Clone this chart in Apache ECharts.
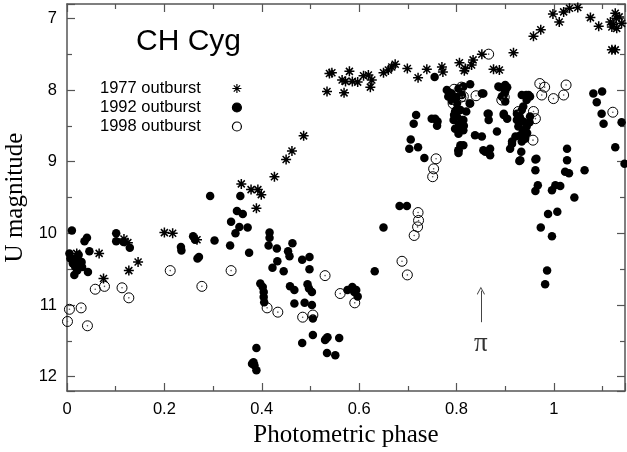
<!DOCTYPE html>
<html>
<head>
<meta charset="utf-8">
<script src="https://cdn.jsdelivr.net/npm/echarts@6/dist/echarts.min.js"></script>
<style>html,body{margin:0;padding:0;background:#fff}#c{width:627px;height:452px}</style>
</head>
<body>
<div id="c"></div>
<script>
// ---- data: [photometric phase, U magnitude] ----
const outburst1977 = [
[0.020,10.28],[0.066,10.28],[0.075,10.63],[0.117,10.08],[0.125,10.13],[0.127,10.52],[0.146,10.40],[0.200,9.99],[0.217,10.00],[0.267,10.09],
[0.358,9.31],[0.378,9.39],[0.392,9.39],[0.399,9.46],[0.389,9.65],[0.426,9.21],[0.450,8.97],[0.462,8.85],[0.486,8.64],
[0.534,8.02],[0.569,8.04],[0.539,7.77],[0.544,7.76],[0.580,7.74],[0.565,7.86],[0.572,7.88],[0.586,7.88],[0.597,7.89],[0.609,7.80],[0.619,7.79],[0.626,7.86],[0.623,7.96],
[0.650,7.76],[0.660,7.72],[0.667,7.68],[0.674,7.64],[0.699,7.70],[0.721,7.83],[0.739,7.71],[0.770,7.68],[0.772,7.75],[0.806,7.62],[0.818,7.70],[0.816,7.73],
[0.834,7.58],[0.831,7.65],[0.852,7.50],[0.876,7.71],[0.888,7.72],[0.917,7.48],[0.958,7.25],[0.973,7.16],[0.998,6.94],[1.011,7.05],[1.020,6.91],[1.032,6.86],
[1.049,6.85],[1.075,6.99],[1.092,7.11],[1.116,7.05],[1.126,6.93],[1.128,7.00],[1.119,7.12],[1.129,7.14],[1.139,7.07],[1.119,7.44],[1.126,7.44],[1.134,6.98],[1.122,7.09]
];
const outburst1992 = [
[0.010,9.96],[0.036,10.11],[0.041,10.06],[0.046,10.25],[0.005,10.28],[0.007,10.35],[0.017,10.35],[0.024,10.38],[0.027,10.42],[0.017,10.47],[0.031,10.47],
[0.021,10.52],[0.015,10.58],[0.043,10.54],[0.024,10.30],[0.030,10.40],[0.012,10.42],[0.101,10.00],[0.101,10.11],[0.116,10.12],[0.129,10.20],
[0.259,10.04],[0.263,10.09],[0.234,10.19],[0.235,10.24],[0.268,10.35],[0.271,10.33],[0.303,10.10],[0.335,10.17],
[0.294,9.48],[0.356,9.48],[0.349,9.69],[0.361,9.73],[0.337,9.84],[0.354,9.91],[0.371,9.92],[0.346,10.00],[0.374,10.27],
[0.416,9.99],[0.416,10.06],[0.414,10.17],[0.431,10.21],[0.463,10.14],[0.454,10.25],[0.457,10.32],[0.432,10.39],[0.422,10.48],[0.445,10.53],[0.483,10.37],[0.498,10.33],[0.498,10.50],
[0.397,10.70],[0.402,10.75],[0.404,10.82],[0.404,10.89],[0.405,10.96],[0.458,10.74],[0.467,10.79],[0.494,10.71],[0.497,10.77],[0.503,10.82],[0.467,10.98],[0.488,10.97],[0.503,11.00],
[0.505,11.19],[0.505,11.42],[0.483,11.53],[0.530,11.49],[0.534,11.67],[0.532,11.47],[0.535,11.45],[0.559,11.46],[0.551,11.70],
[0.389,11.60],[0.380,11.82],[0.385,11.84],[0.389,11.91],[0.383,11.80],
[0.683,9.62],[0.698,9.62],[0.650,9.92],[0.632,10.53],[0.586,10.75],[0.576,10.79],[0.594,10.79],[0.597,10.88],[0.590,10.82],
[0.755,7.82],[0.717,8.35],[0.712,8.47],[0.749,8.40],[0.761,8.44],[0.760,8.50],[0.706,8.69],[0.703,8.82],[0.721,8.80],[0.734,8.95],[0.804,8.84],[0.756,8.40],
[0.780,8.00],[0.783,8.09],[0.786,8.04],[0.790,8.05],[0.804,7.98],[0.814,7.95],[0.828,7.92],[0.811,8.07],[0.827,8.19],[0.801,8.19],[0.797,8.30],[0.808,8.28],
[0.794,8.42],[0.811,8.42],[0.797,8.54],[0.814,8.56],[0.804,8.61],[0.799,8.28],[0.801,8.37],[0.814,8.42],[0.808,8.56],[0.808,8.77],[0.804,8.84],[0.804,8.88],
[0.814,8.77],[0.790,8.15],[0.795,8.35],[0.805,8.48],[0.815,8.50],[0.800,8.10],[0.820,8.30],
[0.852,8.05],[0.855,8.05],[0.838,8.63],[0.852,8.65],[0.866,8.33],[0.866,8.42],[0.883,8.58],[0.855,8.84],[0.869,8.82],[0.869,8.91],[0.859,8.86],[0.864,8.33],[0.828,8.19],
[0.886,7.95],[0.889,7.96],[0.900,7.93],[0.904,7.96],[0.900,8.02],[0.893,8.09],[0.897,8.07],[0.900,8.16],[0.897,8.33],[0.904,8.40],[0.897,8.35],
[0.914,8.72],[0.910,8.82],[0.914,8.75],[0.933,8.86],[0.929,8.99],[0.931,8.98],
[0.934,8.07],[0.948,8.07],[0.944,8.14],[0.943,8.07],[0.937,8.23],[0.951,8.09],
[0.924,8.33],[0.934,8.28],[0.924,8.42],[0.937,8.44],[0.927,8.51],[0.937,8.56],[0.931,8.63],[0.941,8.68],[0.934,8.72],[0.921,8.65],[0.951,8.37],[0.944,8.51],[0.930,8.38],[0.945,8.60],[0.950,8.45],
[0.964,8.96],[0.962,8.97],[0.962,9.12],[0.967,9.33],[0.962,9.41],[0.996,9.40],[1.003,9.33],[1.013,9.34],[0.988,9.73],[1.007,9.70],[0.973,9.92],[0.996,10.04],[0.986,10.52],[0.982,10.71],
[1.027,8.82],[1.027,8.98],[1.023,9.14],[1.031,9.16],[1.063,9.12],[1.042,9.50],
[1.081,8.05],[1.099,8.02],[1.088,8.17],[1.098,8.33],[1.102,8.47],[1.139,8.45],[1.126,8.80],[1.145,9.03]
];
const outburst1998 = [
[0.212,10.52],[0.058,10.78],[0.077,10.74],[0.113,10.76],[0.127,10.90],[0.005,11.06],[0.029,11.04],[0.001,11.23],[0.042,11.29],[0.277,10.74],[0.337,10.52],
[0.411,11.04],[0.433,11.10],[0.484,11.17],[0.505,11.14],[0.530,10.59],[0.561,10.84],[0.591,10.97],[0.688,10.39],[0.699,10.58],
[0.721,9.71],[0.722,9.82],[0.720,9.91],[0.713,10.03],
[0.758,8.96],[0.753,9.10],[0.751,9.21],
[0.866,7.50],[0.840,8.08],[0.795,7.99],[0.810,7.96],[0.809,8.10],[0.793,8.19],[0.814,8.09],[0.898,8.10],[0.893,8.14],
[0.971,7.91],[0.981,7.96],[0.975,8.07],[0.999,8.12],[1.020,8.07],[1.025,7.93],[1.121,8.31],[0.927,8.30],[0.958,8.30],[0.962,8.40],[0.957,8.70]
];
const seriesNames = ['1977 outburst', '1992 outburst', '1998 outburst'];
const xRange = [0, 1.146];
const yRange = [6.8, 12.2];
const piLabel = [[0.85, 11.54]];
const piArrow = [[0.85, 11.24], [0.85, 10.80]];

const AX = '#555';
const SANS = 'Liberation Sans, Arial, Helvetica, sans-serif';
const SERIF = 'Liberation Serif, Times New Roman, serif';

function xAx(pos, labels) {
  return {
    type: 'value', position: pos, min: xRange[0], max: xRange[1],
    axisLine: { show: true, onZero: false, lineStyle: { color: AX, width: 1.5 } },
    axisTick: { show: true, inside: true, length: 8, lineStyle: { color: AX, width: 1.2 } },
    minorTick: { show: true, splitNumber: 2, length: 5, lineStyle: { color: AX, width: 1.2 } },
    splitLine: { show: false }, minorSplitLine: { show: false },
    axisLabel: { show: labels, color: '#000', fontSize: 16.5, fontFamily: SANS, margin: 10, showMaxLabel: false },
    name: labels ? 'Photometric phase' : '', nameLocation: 'middle', nameGap: 29,
    nameTextStyle: { color: '#000', fontSize: 25, fontFamily: SERIF }
  };
}
function yAx(pos, labels) {
  return {
    type: 'value', position: pos, inverse: true, min: yRange[0], max: yRange[1],
    axisLine: { show: true, onZero: false, lineStyle: { color: AX, width: 1.5 } },
    axisTick: { show: true, inside: true, length: 8, lineStyle: { color: AX, width: 1.2 } },
    minorTick: { show: true, splitNumber: 2, length: 5, lineStyle: { color: AX, width: 1.2 } },
    splitLine: { show: false }, minorSplitLine: { show: false },
    axisLabel: { show: labels, color: '#000', fontSize: 16.5, fontFamily: SANS, margin: 10, showMinLabel: false, showMaxLabel: false },
    name: labels ? 'U magnitude' : '', nameLocation: 'middle', nameGap: 34,
    nameTextStyle: { color: '#000', fontSize: 25, fontFamily: SERIF }
  };
}

const STAR = 'path://M0,5L10,5M5,0L5,10M1.5,1.5L8.5,8.5M8.5,1.5L1.5,8.5';
const ARROW = 'path://M5,0L10,8L9.2,8.6L5,2L0.8,8.6L0,8Z';

const chart = echarts.init(document.getElementById('c'), null, { renderer: 'canvas' });
chart.setOption({
  animation: false,
  backgroundColor: '#fff',
  title: { text: 'CH Cyg', left: 136, top: 27, padding: 0,
    textStyle: { color: '#000', fontSize: 30, fontWeight: 'normal', fontFamily: SANS } },
  legend: {
    data: seriesNames, orient: 'vertical', left: 100, top: 80, padding: 0,
    align: 'right', itemWidth: 62, itemHeight: 9, itemGap: 2,
    textStyle: { color: '#000', fontSize: 16.5, fontFamily: SANS },
    itemStyle: { borderWidth: 1.2 }
  },
  grid: { left: 67, right: 2, top: 4, bottom: 61, containLabel: false, outerBoundsMode: 'none' },
  xAxis: [xAx('bottom', true), xAx('top', false)],
  yAxis: [yAx('left', true), yAx('right', false)],
  series: [
    { name: seriesNames[0], type: 'scatter', data: outburst1977, symbol: STAR, symbolSize: 10,
      itemStyle: { color: '#000', borderColor: '#000', borderWidth: 1.5, opacity: 1 } },
    { name: seriesNames[1], type: 'scatter', data: outburst1992, symbol: 'circle', symbolSize: 8.5,
      itemStyle: { color: '#000', borderColor: '#000', borderWidth: 0, opacity: 1 } },
    { name: seriesNames[2], type: 'scatter', data: outburst1998, symbol: 'circle', symbolSize: 10,
      itemStyle: { color: 'rgba(0,0,0,0)', borderColor: '#000', borderWidth: 1, opacity: 1 } },
    { name: 'centre', type: 'scatter', data: outburst1998, symbol: 'circle', symbolSize: 1.6, silent: true,
      itemStyle: { color: '#555', opacity: 1 } },
    { name: 'pi', type: 'scatter', data: piLabel, symbolSize: 1, silent: true,
      itemStyle: { color: 'rgba(0,0,0,0)' },
      label: { show: true, position: 'inside', formatter: '\u03c0', color: '#000', fontSize: 27, fontFamily: SERIF },
      markLine: { silent: true, symbol: ['none', ARROW], symbolSize: 8, animation: false,
        lineStyle: { color: '#444', width: 1, type: 'solid' }, label: { show: false },
        data: [[{ coord: piArrow[0] }, { coord: piArrow[1] }]] } }
  ]
});
</script>
</body>
</html>
